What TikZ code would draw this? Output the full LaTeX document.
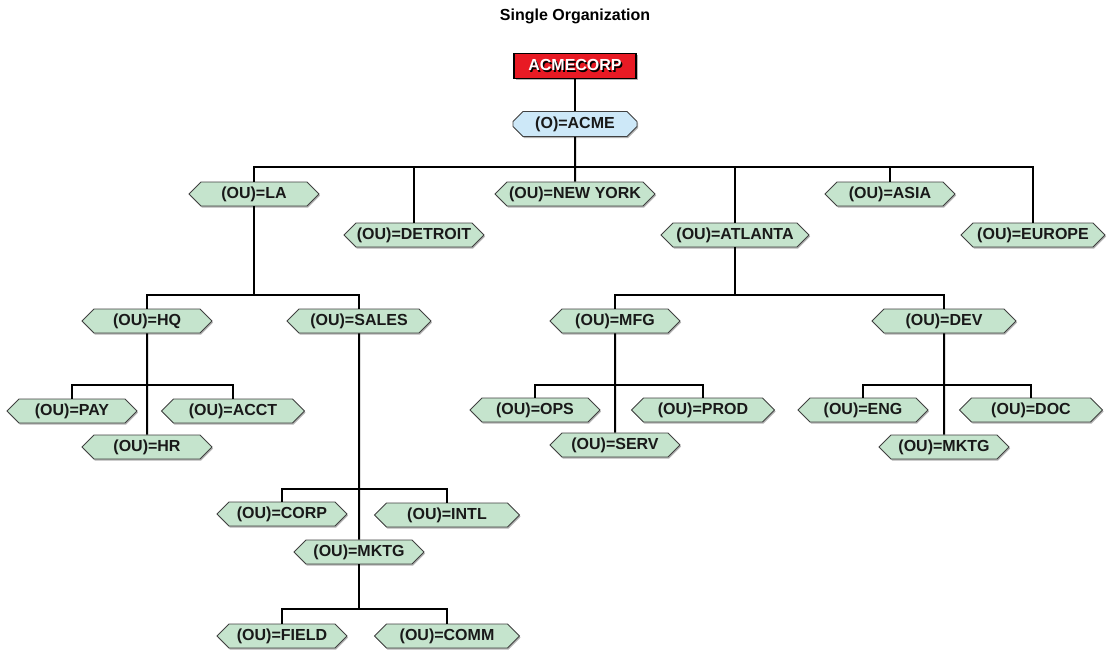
\documentclass[tikz,border=0pt]{standalone}
\usepackage{fontspec}
\setmainfont{Liberation Sans}
\usetikzlibrary{shapes.symbols,shapes.misc,shadows}
\definecolor{ougreen}{RGB}{197,228,205}
\definecolor{oblue}{RGB}{205,232,248}
\definecolor{corpred}{RGB}{232,26,36}
\newcommand\shadowed[1]{\makebox[0pt][l]{\hspace{1.4pt}\raisebox{-1.4pt}{\color{black}#1}}\textcolor{white}{#1}}
\tikzset{
  lbl/.style={font=\fontsize{16}{19}\selectfont\bfseries, text=black!90},
  ou/.style={lbl, signal, signal to=west and east, signal pointer angle=90,
    draw=black!75, line width=0.8pt, fill=ougreen, minimum width=130pt,
    minimum height=24pt, inner sep=0pt,
    drop shadow={shadow xshift=1pt, shadow yshift=-1.5pt, fill=black!60, opacity=0.5}},
  org/.style={lbl, chamfered rectangle, chamfered rectangle xsep=5pt,
    chamfered rectangle ysep=5pt, draw=black!75, line width=0.8pt, fill=oblue,
    minimum width=124pt, minimum height=25pt, inner sep=0pt,
    drop shadow={shadow xshift=1pt, shadow yshift=-1.5pt, fill=black!60, opacity=0.5}},
  root/.style={lbl, rectangle, draw=black, line width=1.6pt, fill=corpred,
    minimum width=122pt, minimum height=25pt, inner sep=0pt,
    drop shadow={shadow xshift=1.5pt, shadow yshift=-1.5pt, fill=black!60, opacity=0.5}},
  link/.style={line width=2pt, black},
}
\begin{document}
\begin{tikzpicture}[x=1pt,y=-1pt]
\useasboundingbox (0,0) rectangle (1110,649);
\node[font=\fontsize{16}{19}\selectfont\bfseries] (title) at (575,16) {Single Organization};
% top of the tree
\node[root] (corp) at (575,66) {\shadowed{ACMECORP}};
\node[org] (acme) at (575,124) {(O)=ACME};
\node[ou] (la) at (254,194) {(OU)=LA};
\node[ou,minimum width=140pt] (detroit) at (414,235) {(OU)=DETROIT};
\node[ou,minimum width=160pt] (ny) at (575,194) {(OU)=NEW YORK};
\node[ou,minimum width=148pt] (atlanta) at (735,235) {(OU)=ATLANTA};
\node[ou] (asia) at (890,194) {(OU)=ASIA};
\node[ou,minimum width=144pt] (europe) at (1033,235) {(OU)=EUROPE};
% LA branch
\node[ou] (hq) at (147,321) {(OU)=HQ};
\node[ou,minimum width=144pt] (sales) at (359,321) {(OU)=SALES};
\node[ou] (pay) at (72,411) {(OU)=PAY};
\node[ou,minimum width=143pt] (acct) at (233,411) {(OU)=ACCT};
\node[ou] (hr) at (147,447) {(OU)=HR};
\node[ou] (corpou) at (282,514) {(OU)=CORP};
\node[ou,minimum width=145pt] (intl) at (447,515) {(OU)=INTL};
\node[ou] (mktg) at (359,552) {(OU)=MKTG};
\node[ou] (field) at (282,636) {(OU)=FIELD};
\node[ou,minimum width=145pt] (comm) at (447,636) {(OU)=COMM};
% ATLANTA branch
\node[ou] (mfg) at (615,321) {(OU)=MFG};
\node[ou,minimum width=144pt] (dev) at (944,321) {(OU)=DEV};
\node[ou] (ops) at (535,410) {(OU)=OPS};
\node[ou,minimum width=143pt] (prod) at (703,410) {(OU)=PROD};
\node[ou] (serv) at (615,445) {(OU)=SERV};
\node[ou] (eng) at (863,410) {(OU)=ENG};
\node[ou,minimum width=143pt] (doc) at (1031,410) {(OU)=DOC};
\node[ou] (devmktg) at (944,447) {(OU)=MKTG};
% buses
\coordinate (topbus) at (575,167);
\coordinate (labus) at (254,295);
\coordinate (hqbus) at (147,385);
\coordinate (salesbus) at (359,489);
\coordinate (mktgbus) at (359,609);
\coordinate (atlbus) at (735,295);
\coordinate (mfgbus) at (615,385);
\coordinate (devbus) at (944,385);
% connectors
\draw[link] (corp) -- (acme);
\draw[link] (acme) -- (ny);
\draw[link] (la.north) |- (topbus) -| (europe.north);
\draw[link] (detroit.north) -- (detroit.north |- topbus);
\draw[link] (atlanta.north) -- (atlanta.north |- topbus);
\draw[link] (asia.north) -- (asia.north |- topbus);
\draw[link] (la.south) -- (labus);
\draw[link] (hq.north) |- (labus) -| (sales.north);
\draw[link] (hq) -- (hr);
\draw[link] (pay.north) |- (hqbus) -| (acct.north);
\draw[link] (sales) -- (mktg);
\draw[link] (corpou.north) |- (salesbus) -| (intl.north);
\draw[link] (mktg.south) -- (mktgbus);
\draw[link] (field.north) |- (mktgbus) -| (comm.north);
\draw[link] (atlanta.south) -- (atlbus);
\draw[link] (mfg.north) |- (atlbus) -| (dev.north);
\draw[link] (mfg) -- (serv);
\draw[link] (ops.north) |- (mfgbus) -| (prod.north);
\draw[link] (dev) -- (devmktg);
\draw[link] (eng.north) |- (devbus) -| (doc.north);
\end{tikzpicture}
\end{document}
